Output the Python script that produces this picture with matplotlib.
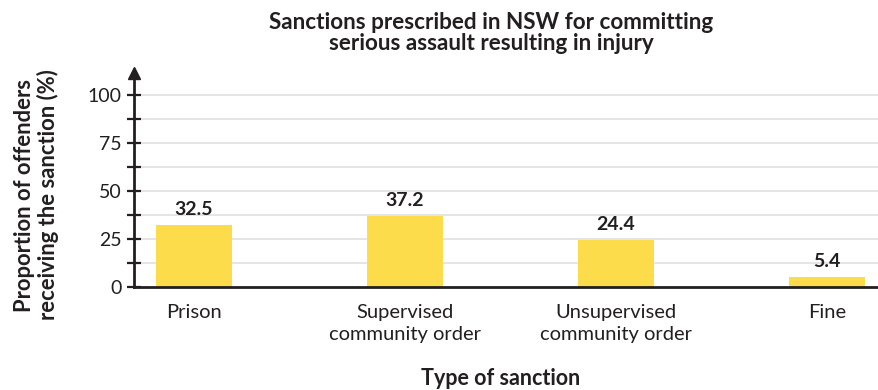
import matplotlib.pyplot as plt
import numpy as np

plt.rcParams['font.family'] = ['Lato', 'DejaVu Sans']

categories = ["Prison", "Supervised\ncommunity order", "Unsupervised\ncommunity order", "Fine"]
values = [32.5, 37.2, 24.4, 5.4]
major_ticks = [0, 25, 50, 75, 100]
minor_ticks = [12.5, 37.5, 62.5, 87.5]

title = "Sanctions prescribed in NSW for committing\nserious assault resulting in injury"
ylabel = "Proportion of offenders\nreceiving the sanction (%)"
xlabel = "Type of sanction"

bar_color = "#FDDC4C"
text_color = "#231F20"

fig = plt.figure(figsize=(8.79, 3.90), dpi=100)
ax = fig.add_axes([0.1524, 0.2641, 0.8476, 0.5487])

x = np.arange(len(categories))
ax.bar(x, values, width=0.36, color=bar_color, zorder=2)

for xi, v in zip(x, values):
    ax.annotate(f"{v}", (xi, v), xytext=(0, 5), textcoords="offset points",
                ha="center", va="bottom", fontsize=14, fontweight="bold",
                color=text_color)

ax.set_xlim(-0.284, 3.246)
ax.set_ylim(0, 111.5)

# light grid at every tick position
for g in major_ticks[1:] + minor_ticks:
    ax.axhline(g, color="#E3E3E3", lw=1.3, zorder=1)

ax.set_yticks(major_ticks)
ax.set_yticks(minor_ticks, minor=True)
ax.set_yticklabels([str(t) for t in major_ticks], fontsize=14, color=text_color)
ax.tick_params(axis="y", which="both", direction="inout", length=10, width=1.6,
               color=text_color, pad=4)
ax.set_xticks(x)
ax.set_xticklabels(categories, fontsize=14.5, color=text_color, linespacing=1.35)
ax.tick_params(axis="x", length=0, pad=12)

for s in ["top", "right"]:
    ax.spines[s].set_visible(False)
ax.spines["left"].set_linewidth(2)
ax.spines["bottom"].set_linewidth(2)
ax.spines["left"].set_color(text_color)
ax.spines["bottom"].set_color(text_color)
ax.spines["left"].set_zorder(3)
ax.spines["bottom"].set_zorder(3)

# arrow head on top of the y-axis
ax.plot([-0.284], [111.5], marker="^", markersize=8, color=text_color,
        clip_on=False, zorder=4, transform=ax.transData)

fig.text(0.559, 0.915, title, ha="center", va="center", fontsize=16.2,
         fontweight="bold", color=text_color, linespacing=1.0)
fig.text(0.042, 0.50, ylabel, ha="center", va="center", rotation=90,
         fontsize=15.8, fontweight="bold", color=text_color, linespacing=1.1)
fig.text(0.569, 0.030, xlabel, ha="center", va="center", fontsize=15.5,
         fontweight="bold", color=text_color)

fig.savefig("out.png", dpi=100)
